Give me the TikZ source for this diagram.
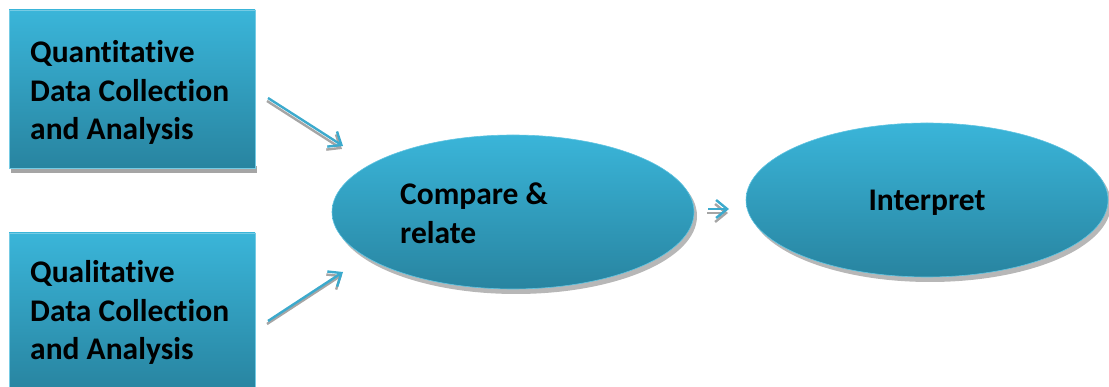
\documentclass[tikz,border=0pt]{standalone}
\usepackage{fontspec}
\setmainfont{Carlito}[Ligatures=NoCommon]
\usetikzlibrary{arrows.meta,shapes.geometric}
\definecolor{ctop}{RGB}{58,181,217}
\definecolor{cbot}{RGB}{40,132,160}
\definecolor{cline}{RGB}{60,170,205}
\definecolor{cshadow}{RGB}{165,165,165}
\tikzset{
  box/.style={draw=ctop!70!white, line width=0.6pt, top color=ctop, bottom color=cbot, minimum width=246pt, minimum height=158pt, inner sep=0pt},
  oval/.style={ellipse, draw=ctop!80!white, line width=0.6pt, top color=ctop, bottom color=cbot, minimum width=362pt, minimum height=154pt, inner sep=0pt},
  lbl/.style={anchor=base west, inner sep=0pt, font=\bfseries\fontsize{31.5}{38.5}\selectfont},
  arr/.style={draw=cline, line width=2.4pt, -{Straight Barb[length=11pt,width=18pt,line width=2.4pt]}},
  arrs/.style={draw=cshadow, line width=2.4pt, -{Straight Barb[length=11pt,width=18pt,line width=2.4pt]}},
}
\begin{document}
\begin{tikzpicture}[x=1pt,y=-1pt]
\useasboundingbox (0,0) rectangle (1109,387);
% shadows
\fill[cshadow] (11,166) rectangle (257,173);
\fill[cshadow] (11,387) rectangle (257,392);
\fill[cshadow!80!white] (516,216) ellipse (181 and 78);
\fill[cshadow!80!white] (930,204) ellipse (181 and 78);
% boxes
\node[box] (q) at (132,89) {};
\node[box] (ql) at (132,312) {};
\node[oval] (cr) at (513,212) {};
\node[oval] (ip) at (927,200) {};
% texts
\node[lbl] (t1) at (30,63) {Quantitative};
\node[lbl] (t2) at (30,101.5) {Data Collection};
\node[lbl] (t3) at (30,140) {and Analysis};
\node[lbl] (t4) at (30,283) {Qualitative};
\node[lbl] (t5) at (30,321.5) {Data Collection};
\node[lbl] (t6) at (30,360) {and Analysis};
\node[lbl] (t7) at (400,205) {Compare \&};
\node[lbl] (t8) at (400,243.5) {relate};
\node[lbl,anchor=base] (t9) at (927,211) {Interpret};
% connector coordinates
\coordinate (a1s) at (268,98);
\coordinate (a1e) at (343,146);
\coordinate (a2s) at (268,321);
\coordinate (a2e) at (343,272);
\coordinate (a3s) at (708,209);
\coordinate (a3e) at (729,209);
% arrows with shadows
\draw[arrs] ([shift={(-1,3)}]a1s) -- ([shift={(-1,3)}]a1e);
\draw[arrs] ([shift={(-1,3)}]a2s) -- ([shift={(-1,3)}]a2e);
\draw[arrs] ([shift={(-1,4)}]a3s) -- ([shift={(-1,4)}]a3e);
\draw[arr] (a1s) -- (a1e);
\draw[arr] (a2s) -- (a2e);
\draw[arr] (a3s) -- (a3e);
\end{tikzpicture}
\end{document}
